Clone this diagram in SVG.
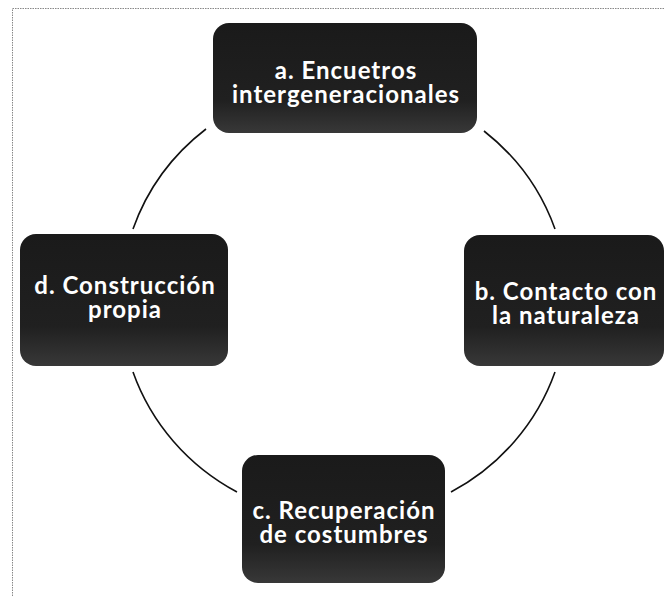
<svg xmlns="http://www.w3.org/2000/svg" width="665" height="596" viewBox="0 0 665 596">
<style>
.box{fill:url(#g);}
.lbl{font-family:Lato,"Open Sans","DejaVu Sans",sans-serif;font-weight:bold;font-size:24px;letter-spacing:1px;fill:#ffffff;text-anchor:middle;}
.arc{fill:none;stroke:#111;stroke-width:1.6;}
.frame{fill:none;stroke:#888;stroke-width:1;stroke-dasharray:1.5 1;}
</style>
<defs>
<linearGradient id="g" x1="0" y1="0" x2="0" y2="1">
<stop offset="0" stop-color="#1a1a1a"/>
<stop offset="0.7" stop-color="#202020"/>
<stop offset="1" stop-color="#383838"/>
</linearGradient>
</defs>
<rect width="665" height="596" fill="#ffffff"/>
<path class="frame" d="M12.5 596 V8.5 H665"/>
<g id="connectors">
<path class="arc" d="M484 131 A223 218 0 0 1 555 229"/>
<path class="arc" d="M555 372 A223 218 0 0 1 451 492"/>
<path class="arc" d="M237 492 A223 218 0 0 1 133 372"/>
<path class="arc" d="M133 229 A223 218 0 0 1 206 129"/>
</g>
<g id="node-a">
<rect class="box" x="213" y="23" width="264" height="110" rx="16"/>
<text class="lbl"><tspan x="346" y="79">a. Encuetros</tspan><tspan x="346" y="103">intergeneracionales</tspan></text>
</g>
<g id="node-b">
<rect class="box" x="464" y="235" width="200" height="131" rx="16"/>
<text class="lbl"><tspan x="566" y="300">b. Contacto con</tspan><tspan x="566" y="324">la naturaleza</tspan></text>
</g>
<g id="node-c">
<rect class="box" x="242" y="455" width="203" height="128" rx="16"/>
<text class="lbl"><tspan x="344" y="519">c. Recuperación</tspan><tspan x="344" y="543">de costumbres</tspan></text>
</g>
<g id="node-d">
<rect class="box" x="20" y="234" width="208" height="132" rx="16"/>
<text class="lbl"><tspan x="125" y="294">d. Construcción</tspan><tspan x="125" y="318">propia</tspan></text>
</g>
</svg>
